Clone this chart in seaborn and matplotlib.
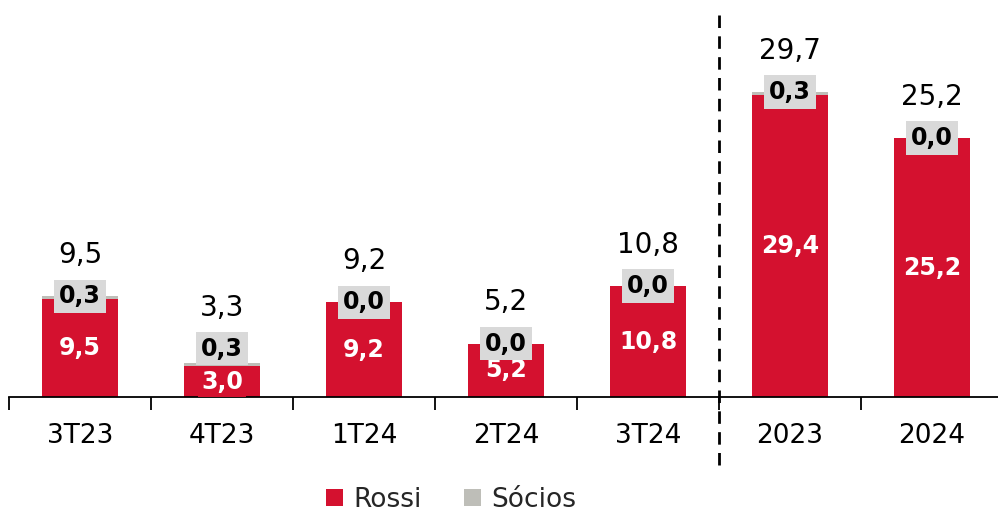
import matplotlib
matplotlib.use("Agg")
import matplotlib.pyplot as plt
import pandas as pd
import seaborn as sns
from matplotlib.patches import Patch

# values
categories = ["3T23", "4T23", "1T24", "2T24", "3T24", "2023", "2024"]
rossi = [9.5, 3.0, 9.2, 5.2, 10.8, 29.4, 25.2]
socios = [0.3, 0.3, 0.0, 0.0, 0.0, 0.3, 0.0]
totals = [9.5, 3.3, 9.2, 5.2, 10.8, 29.7, 25.2]

RED = "#D4112F"
GRAY = "#BEBEB8"
LABEL_GRAY = "#D9D9D9"


def fmt(v):
    return f"{v:.1f}".replace(".", ",")


df = pd.DataFrame({"cat": categories, "Rossi": rossi, "Sócios": socios})
df["stack"] = df["Rossi"] + df["Sócios"]

sns.set_theme(style="white")
plt.rcParams["font.family"] = ["DejaVu Sans"]

fig = plt.figure(figsize=(9.98, 5.11), dpi=100)
ax = fig.add_axes([9 / 998, 114 / 511, 994 / 998, 339 / 511])

sns.barplot(data=df, x="cat", y="stack", color=GRAY, saturation=1,
            width=0.535, ax=ax, order=categories, edgecolor="none")
sns.barplot(data=df, x="cat", y="Rossi", color=RED, saturation=1,
            width=0.535, ax=ax, order=categories, edgecolor="none")

ax.set_xlim(-0.5, 6.5)
ax.set_ylim(0, 33)
ax.set_xlabel("")
ax.set_ylabel("")
ax.set_yticks([])
for s in ["left", "right", "top"]:
    ax.spines[s].set_visible(False)
ax.spines["bottom"].set_color("black")
ax.spines["bottom"].set_linewidth(1.3)

ax.set_xticks(range(len(categories)))
ax.set_xticklabels(categories, fontsize=19)
ax.set_xticks([i - 0.5 for i in range(len(categories) + 1)], minor=True)
ax.tick_params(axis="x", which="major", length=0, pad=19, colors="black")
ax.tick_params(axis="x", which="minor", length=9, width=1.3,
               direction="out", bottom=True, color="black")

for i, (r, s, t) in enumerate(zip(rossi, socios, totals)):
    top = r + s
    ax.text(i, r / 2, fmt(r), ha="center", va="center", color="white",
            fontsize=17, fontweight="bold", clip_on=False,
            bbox=dict(boxstyle="square,pad=0.15", fc=RED, ec="none"))
    sy = top + 1.4 if r < 4 else top
    ax.text(i, sy, fmt(s), ha="center", va="center", color="black",
            fontsize=17, fontweight="bold", clip_on=False,
            bbox=dict(boxstyle="square,pad=0.2", fc=LABEL_GRAY, ec="none"))
    ax.text(i, sy + 4.0, fmt(t), ha="center", va="center", color="black",
            fontsize=20, clip_on=False)

ax.axvline(4.5, ymin=-0.2, ymax=1.14, color="black", lw=2,
           ls=(0, (4.5, 3)), clip_on=False)

handles = [Patch(facecolor=RED, edgecolor="none", label="Rossi"),
           Patch(facecolor=GRAY, edgecolor="none", label="Sócios")]
fig.legend(handles=handles, loc="center", bbox_to_anchor=(0.452, 0.022),
           ncol=2, frameon=False, fontsize=19, handlelength=0.65,
           handleheight=0.65, handletextpad=0.4, columnspacing=1.6)

fig.savefig("out.png", dpi=100)
